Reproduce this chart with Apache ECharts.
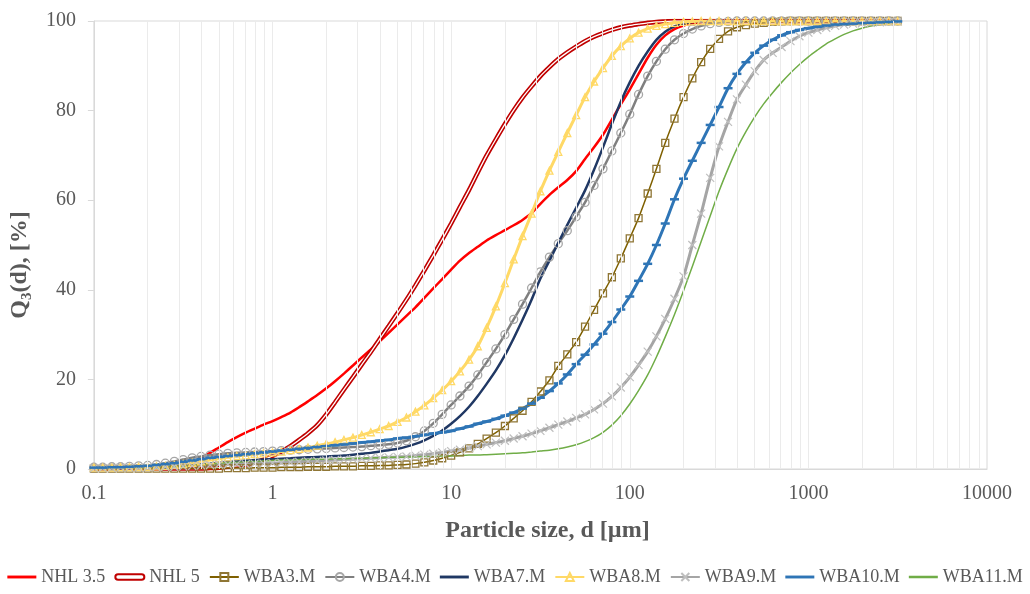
<!DOCTYPE html>
<html>
<head>
<meta charset="utf-8">
<script src="https://cdn.jsdelivr.net/npm/echarts@6/dist/echarts.min.js"></script>
<style>html,body{margin:0;padding:0;background:#fff}#c{width:1030px;height:594px}</style>
</head>
<body>
<div id="c"></div>
<script>
// Particle sizes d [µm] (instrument size classes, 20 per decade)
var sizes = [0.1,0.112,0.126,0.141,0.158,0.178,0.2,0.224,0.251,0.282,0.316,0.355,0.398,0.447,0.501,0.562,0.631,0.708,0.794,0.891,
  1,1.12,1.26,1.41,1.58,1.78,2,2.24,2.51,2.82,3.16,3.55,3.98,4.47,5.01,5.62,6.31,7.08,7.94,8.91,
  10,11.2,12.6,14.1,15.8,17.8,20,22.4,25.1,28.2,31.6,35.5,39.8,44.7,50.1,56.2,63.1,70.8,79.4,89.1,
  100,112,126,141,158,178,200,224,251,282,316,355,398,447,501,562,631,708,794,891,
  1000,1122,1259,1413,1585,1778,1995,2239,2512,2818,3162];

var nhl35 = [0.1,0.1,0.1,0.1,0.2,0.2,0.3,0.3,0.4,0.6,
  1.0,1.6,2.5,3.6,4.8,6.0,7.1,8.1,9.0,9.9,
  10.7,11.6,12.6,13.8,15.1,16.5,18.0,19.6,21.3,23.1,
  24.9,26.7,28.5,30.4,32.3,34.2,36.1,38.2,40.3,42.4,
  44.5,46.5,48.2,49.6,51.0,52.2,53.3,54.4,55.6,57.1,
  59.2,61.2,62.9,64.5,66.5,69.2,71.8,74.6,78.0,81.4,
  84.7,88.2,91.8,94.7,96.8,98.2,99.0,99.5,99.8,100,
  100,100,100,100,100,100,100,100,100,100,
  100,100,100,100,100,100,100,100,100,100,100];

var nhl5 = [0.1,0.1,0.1,0.1,0.1,0.1,0.1,0.1,0.1,0.1,
  0.1,0.1,0.1,0.2,0.3,0.5,0.7,1.0,1.5,2.1,
  2.9,3.9,5.1,6.5,8.0,9.8,12.2,14.9,17.7,20.5,
  23.3,26.1,29.0,31.9,34.8,37.8,41.0,44.3,47.7,51.2,
  54.8,58.5,62.3,66.2,70.0,73.6,77.0,80.1,82.9,85.4,
  87.7,89.7,91.5,93.0,94.3,95.5,96.5,97.3,98.0,98.6,
  99.0,99.3,99.6,99.8,99.9,100,100,100,100,100,
  100,100,100,100,100,100,100,100,100,100,
  100,100,100,100,100,100,100,100,100,100,100];

var wba3 = [0.1,0.1,0.1,0.1,0.1,0.1,0.1,0.1,0.1,0.1,
  0.1,0.1,0.1,0.1,0.1,0.2,0.2,0.2,0.3,0.3,
  0.3,0.4,0.4,0.4,0.5,0.5,0.5,0.6,0.6,0.6,
  0.7,0.7,0.8,0.8,0.9,1.0,1.2,1.5,1.9,2.4,
  3.0,3.7,4.6,5.6,6.8,8.1,9.6,11.3,13.0,15.0,
  17.3,19.8,23.0,25.6,28.3,31.8,35.5,39.2,42.8,47.0,
  51.5,56.0,61.5,67.0,72.8,78.2,83.0,87.2,90.8,93.8,
  96.0,97.7,98.6,99.1,99.4,99.6,99.8,99.9,100,100,
  100,100,100,100,100,100,100,100,100,100,100];

var wba4 = [0.4,0.4,0.5,0.5,0.6,0.7,0.8,1.0,1.3,1.7,
  2.1,2.5,2.8,3.1,3.3,3.5,3.6,3.7,3.8,3.9,
  4.0,4.1,4.2,4.3,4.4,4.5,4.6,4.7,4.8,4.9,
  5.0,5.2,5.3,5.5,5.8,6.3,7.2,8.5,10.2,12.2,
  14.3,16.3,18.5,21.0,23.8,26.8,30.0,33.4,36.8,40.4,
  44.0,47.3,50.3,53.2,56.3,59.5,63.3,67.0,71.0,75.0,
  79.2,83.6,87.7,91.0,93.7,95.8,97.2,98.2,98.9,99.4,
  99.7,99.9,100,100,100,100,100,100,100,100,
  100,100,100,100,100,100,100,100,100,100,100];

var wba7 = [0.2,0.2,0.2,0.2,0.3,0.3,0.3,0.4,0.4,0.5,
  0.6,0.8,1.0,1.2,1.4,1.6,1.7,1.9,2.0,2.1,
  2.2,2.3,2.4,2.5,2.6,2.7,2.8,2.9,3.0,3.2,
  3.4,3.6,3.9,4.2,4.5,5.0,5.6,6.4,7.4,8.6,
  10.1,11.8,13.9,16.3,19.0,22.0,25.4,29.2,33.3,37.8,
  42.5,46.5,50.5,54.5,58.3,62.2,66.8,71.8,77.0,82.0,
  86.3,90.0,93.2,95.8,97.6,98.8,99.4,99.8,100,100,
  100,100,100,100,100,100,100,100,100,100,
  100,100,100,100,100,100,100,100,100,100,100];

var wba8 = [0.3,0.3,0.3,0.4,0.4,0.5,0.5,0.6,0.7,0.9,
  1.1,1.4,1.7,2.0,2.3,2.6,2.9,3.1,3.3,3.5,
  3.7,3.9,4.2,4.5,4.8,5.2,5.6,6.0,6.5,7.0,
  7.6,8.2,8.9,9.6,10.5,11.5,12.8,14.2,15.8,17.6,
  19.6,21.8,24.4,27.4,31.5,36.3,41.5,46.8,52.0,57.0,
  62.0,66.6,70.8,75.0,79.0,83.0,86.5,89.5,92.2,94.4,
  96.1,97.4,98.3,98.9,99.3,99.6,99.8,99.9,100,100,
  100,100,100,100,100,100,100,100,100,100,
  100,100,100,100,100,100,100,100,100,100,100];

var wba9 = [0.2,0.2,0.2,0.3,0.3,0.3,0.4,0.4,0.5,0.5,
  0.6,0.7,0.8,0.9,1.0,1.0,1.1,1.1,1.2,1.2,
  1.3,1.4,1.5,1.6,1.7,1.8,1.9,2.0,2.1,2.2,
  2.3,2.4,2.5,2.6,2.7,2.8,3.0,3.2,3.4,3.7,
  4.0,4.3,4.7,5.1,5.5,5.9,6.3,6.8,7.3,7.9,
  8.5,9.2,9.9,10.6,11.4,12.2,13.3,14.6,16.2,18.2,
  20.5,23.2,26.2,29.6,33.5,38.0,43.0,50.0,57.0,65.0,
  72.0,77.5,82.5,85.8,88.8,91.3,92.9,94.2,95.5,96.6,
  97.4,98.0,98.5,98.9,99.2,99.4,99.5,99.6,99.7,99.8,99.9];

var wba10 = [0.3,0.3,0.4,0.4,0.5,0.6,0.7,0.9,1.1,1.3,
  1.6,1.9,2.2,2.5,2.7,2.9,3.1,3.3,3.5,3.7,
  3.9,4.1,4.3,4.5,4.7,4.9,5.1,5.3,5.5,5.7,
  5.9,6.1,6.3,6.5,6.8,7.0,7.3,7.6,7.9,8.2,
  8.5,9.0,9.5,10.1,10.6,11.2,11.9,12.6,13.5,14.6,
  15.9,17.4,19.1,21.1,23.4,25.5,27.8,30.2,32.8,35.6,
  38.5,42.0,45.8,50.0,54.8,60.2,64.8,68.8,72.8,76.8,
  80.8,85.0,88.2,90.8,92.9,94.5,95.8,96.8,97.5,98.0,
  98.4,98.7,99.0,99.2,99.3,99.4,99.5,99.6,99.7,99.8,99.9];

var wba11 = [0.2,0.2,0.2,0.2,0.3,0.3,0.3,0.4,0.5,0.6,
  0.7,0.8,1.0,1.1,1.3,1.4,1.5,1.6,1.7,1.8,
  1.9,2.0,2.0,2.1,2.1,2.2,2.2,2.3,2.3,2.4,
  2.4,2.5,2.5,2.6,2.6,2.7,2.7,2.8,2.8,2.9,
  2.9,3.0,3.1,3.1,3.2,3.3,3.4,3.5,3.6,3.8,
  4.0,4.2,4.5,4.9,5.4,6.1,7.0,8.2,9.8,11.9,
  14.5,17.5,21.0,25.0,29.5,34.5,39.8,45.2,50.8,56.5,
  62.0,67.0,71.5,75.3,78.6,81.5,84.0,86.3,88.4,90.3,
  92.0,93.5,94.9,96.0,97.0,97.8,98.4,98.9,99.2,99.5,99.7];

// minor vertical grid positions on the log axis
var minorTicks = [0.2,0.3,0.4,0.5,0.6,0.7,0.8,0.9,2,3,4,5,6,7,8,9,20,30,40,50,60,70,80,90,
  200,300,400,500,600,700,800,900,2000,3000,4000,5000,6000,7000,8000,9000];

var yTicks = [0, 20, 40, 60, 80, 100];

function pairs(ys){ return sizes.map(function(x,i){ return [x, ys[i]]; }); }

var FONT = 'Liberation Serif';
var TXT = '#595959';
var SM = 0.25;
var LINE_ICON = 'path://M0,0H30V2.6H0Z';
var THICK_ICON = 'path://M0,0H30V3H0Z';

var chart = echarts.init(document.getElementById('c'));
chart.setOption({
  animation: false,
  backgroundColor: '#fff',
  grid: {left: 92, right: 43, top: 21, bottom: 125, show: true, borderColor: '#D9D9D9', borderWidth: 1},
  xAxis: {
    type: 'log', logBase: 10, min: 0.1, max: 10000,
    name: 'Particle size, d [\u00b5m]', nameLocation: 'middle', nameGap: 50,
    nameTextStyle: {fontFamily: FONT, fontSize: 24, fontWeight: 'bold', color: TXT, padding: [0, 0, 0, 14]},
    axisLine: {show: true, lineStyle: {color: '#D9D9D9', width: 1}},
    axisTick: {show: false},
    axisLabel: {fontFamily: FONT, fontSize: 20, color: TXT, margin: 15,
      formatter: function(v){ return v < 1 ? v.toFixed(1) : String(Math.round(v)); }},
    splitLine: {show: true, lineStyle: {color: '#EBEBEB', width: 1}}
  },
  yAxis: {
    type: 'value', min: yTicks[0], max: yTicks[yTicks.length-1], interval: 20,
    name: '{b|Q}{s|3}{b|(d), [%]}', nameLocation: 'middle', nameGap: 52,
    nameTextStyle: {color: TXT, padding: [0, 40, 0, 0],
      rich: {
        b: {fontFamily: FONT, fontSize: 24, fontWeight: 'bold', color: TXT, lineHeight: 30, verticalAlign: 'middle'},
        s: {fontFamily: FONT, fontSize: 15, fontWeight: 'bold', color: TXT, lineHeight: 30, verticalAlign: 'bottom'}
      }},
    axisLine: {show: true, lineStyle: {color: '#D9D9D9', width: 1}},
    axisTick: {show: true, length: 6, lineStyle: {color: '#D9D9D9'}},
    axisLabel: {fontFamily: FONT, fontSize: 20, color: TXT, margin: 18},
    splitLine: {show: false}
  },
  legend: {
    top: 568, left: 'center', padding: 0, itemWidth: 29, itemHeight: 10, itemGap: 9,
    textStyle: {fontFamily: FONT, fontSize: 18, color: TXT},
    data: [
      {name: 'NHL 3.5', icon: THICK_ICON},
      {name: 'NHL 5', icon: 'path://M3,0H29A3,3 0 0 1 29,6H3A3,3 0 0 1 3,0Z', itemStyle: {color: '#FFFFFF', borderColor: '#C00000', borderWidth: 2}},
      'WBA3.M','WBA4.M',
      {name: 'WBA7.M', icon: THICK_ICON},
      'WBA8.M','WBA9.M',
      {name: 'WBA10.M', icon: THICK_ICON},
      {name: 'WBA11.M', icon: LINE_ICON}
    ]
  },
  series: [
    {name: '_minor', type: 'line', data: [], silent: true, z: 1,
      markLine: {silent: true, symbol: 'none', label: {show: false}, animation: false,
        lineStyle: {color: '#EBEBEB', width: 1, type: 'solid'},
        data: minorTicks.map(function(v){ return {xAxis: v}; })}},
    {name: 'NHL 3.5', type: 'line', data: pairs(nhl35), smooth: SM, showSymbol: false, symbol: 'none',
      lineStyle: {color: '#FF0000', width: 2.5}, itemStyle: {color: '#FF0000'}},
    {name: 'NHL 5', type: 'line', data: pairs(nhl5), smooth: SM, showSymbol: false, symbol: 'none',
      lineStyle: {color: '#C00000', width: 4.5}, itemStyle: {color: '#C00000'}},
    {name: '_nhl5inner', type: 'line', data: pairs(nhl5), smooth: SM, showSymbol: false, symbol: 'none',
      lineStyle: {color: '#FFFFFF', width: 1.3}, itemStyle: {color: '#FFFFFF'}},
    {name: 'WBA3.M', type: 'line', data: pairs(wba3), smooth: SM, symbol: 'rect', symbolSize: 7,
      lineStyle: {color: '#7F6000', width: 1.5},
      itemStyle: {color: 'rgba(255,255,255,0)', borderColor: '#8F7635', borderWidth: 1.3}},
    {name: 'WBA4.M', type: 'line', data: pairs(wba4), smooth: SM, symbol: 'circle', symbolSize: 8,
      lineStyle: {color: '#7F7F7F', width: 2.5},
      itemStyle: {color: 'rgba(255,255,255,0)', borderColor: '#A6A6A6', borderWidth: 1.3}},
    {name: 'WBA7.M', type: 'line', data: pairs(wba7), smooth: SM, showSymbol: false, symbol: 'none',
      lineStyle: {color: '#203864', width: 2.5}, itemStyle: {color: '#203864'}},
    {name: 'WBA8.M', type: 'line', data: pairs(wba8), smooth: SM, symbol: 'triangle', symbolSize: 7,
      lineStyle: {color: '#FFD966', width: 3},
      itemStyle: {color: 'rgba(255,255,255,0)', borderColor: '#FFD966', borderWidth: 1.3}},
    {name: 'WBA9.M', type: 'line', data: pairs(wba9), smooth: SM, symbol: 'path://M0,0L10,10M10,0L0,10', symbolSize: 8,
      lineStyle: {color: '#A5A5A5', width: 3},
      itemStyle: {color: 'none', borderColor: '#BFBFBF', borderWidth: 1.2}},
    {name: 'WBA10.M', type: 'line', data: pairs(wba10), smooth: SM, symbol: 'rect', symbolSize: [9, 2.5],
      lineStyle: {color: '#2E75B6', width: 3},
      itemStyle: {color: '#2E75B6', borderWidth: 0}},
    {name: 'WBA11.M', type: 'line', data: pairs(wba11), smooth: SM, showSymbol: false, symbol: 'none',
      lineStyle: {color: '#70AD47', width: 1.5}, itemStyle: {color: '#70AD47'}}
  ]
});
</script>
</body>
</html>
